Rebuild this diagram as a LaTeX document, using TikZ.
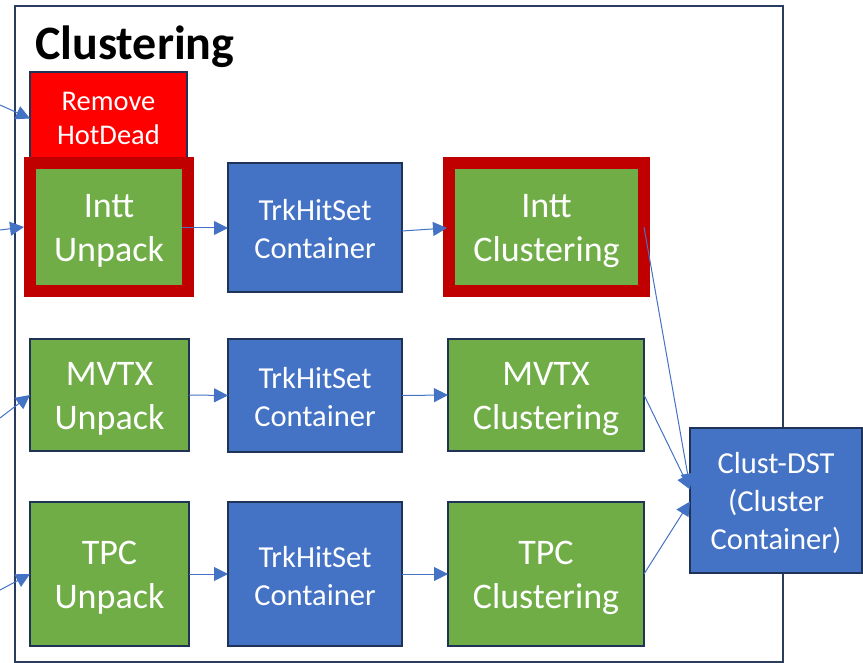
\documentclass[tikz,border=0pt]{standalone}
\usepackage{fontspec}
\setmainfont{Carlito}
\usetikzlibrary{arrows.meta,calc}
\definecolor{boxgreen}{HTML}{70AD47}
\definecolor{boxblue}{HTML}{4472C4}
\definecolor{hotred}{HTML}{FF0000}
\definecolor{ringred}{HTML}{C00000}
\definecolor{edgenavy}{HTML}{1F3356}
\definecolor{framenavy}{HTML}{2B3D5E}
\definecolor{flowblue}{HTML}{4472C4}

\begin{document}
\begin{tikzpicture}[x=1pt,y=-1pt,
  box/.style={rectangle, draw=edgenavy, line width=2pt, inner sep=0pt, outer sep=0pt, text=white, align=center},
  greenbox/.style={box, fill=boxgreen, font=\fontsize{36}{44}\selectfont, text height=75pt},
  bluebox/.style={box, fill=boxblue, font=\fontsize{30.5}{38}\selectfont, text height=63pt},
  ringbox/.style={greenbox, draw=ringred, line width=12pt},
  redbox/.style={box, fill=hotred, font=\fontsize{28.5}{34}\selectfont},
  flow/.style={draw=flowblue, line width=1pt, -{Triangle[length=14pt,width=14pt]}},
]
\useasboundingbox (0,0) rectangle (863,663);

% outer frame of the clustering stage
\draw[framenavy, line width=2pt] (15,6) rectangle (783,662);
\node[anchor=base west, inner sep=0pt, font=\fontsize{48}{56}\selectfont\bfseries] (title) at (35,60) {Clustering};

% hot/dead channel removal sits behind the INTT unpacker
\node[redbox, minimum width=157pt, minimum height=93pt] (rhd) at (108.5,118.5) {Remove\\HotDead};

% INTT row
\node[ringbox, minimum width=158pt, minimum height=128pt] (iup) at (109,227) {Intt\\Unpack};
\node[bluebox, minimum width=174pt, minimum height=129pt] (ihs) at (315,227.5) {TrkHitSet\\Container};
\node[ringbox, minimum width=195pt, minimum height=128pt] (iclu) at (546.5,227) {Intt\\Clustering};

% MVTX row
\node[greenbox, minimum width=159pt, minimum height=112pt] (mup) at (109.5,395) {MVTX\\Unpack};
\node[bluebox, minimum width=174pt, minimum height=113pt] (mhs) at (315,395.5) {TrkHitSet\\Container};
\node[greenbox, minimum width=196pt, minimum height=112pt] (mclu) at (546,395) {MVTX\\Clustering};

% TPC row
\node[greenbox, minimum width=159pt, minimum height=144pt] (tup) at (109.5,574) {TPC\\Unpack};
\node[bluebox, minimum width=174pt, minimum height=144pt] (ths) at (315,574) {TrkHitSet\\Container};
\node[greenbox, minimum width=196pt, minimum height=144pt] (tclu) at (546,574) {TPC\\Clustering};

% output container
\node[bluebox, text height=101.5pt, minimum width=172pt, minimum height=145pt] (cdst) at (776,500.5) {Clust-DST\\(Cluster\\Container)};

% inputs entering from the left
\coordinate (inA) at (0,105);
\coordinate (inB) at (0,230);
\coordinate (inC) at (0,418);
\coordinate (inD) at (0,590);
\draw[flow] (inA) -- (rhd.west);
\draw[flow] (inB) -- ($(iup.west)+(-6,0)$);
\draw[flow] (inC) -- (mup.west);
\draw[flow] (inD) -- (tup.west);

% unpack -> hit sets -> clustering
\draw[flow] ($(iup.east)+(-6,1)$) -- (ihs.west |- 0,228);
\draw[flow] (ihs.east |- 0,231) -- ($(iclu.west)+(-2,1)$);
\draw[flow] (mup.east) -- (mhs.west);
\draw[flow] (mhs.east) -- (mclu.west);
\draw[flow] (tup.east) -- (ths.west);
\draw[flow] (ths.east) -- (tclu.west);

% clustering -> cluster container
\draw[flow] (iclu.east) -- ($(cdst.west)+(0,-13)$);
\draw[flow] (mclu.east) -- ($(cdst.west)+(0,-11)$);
\draw[flow] (tclu.east) -- ($(cdst.west)+(0,1)$);
\end{tikzpicture}
\end{document}
